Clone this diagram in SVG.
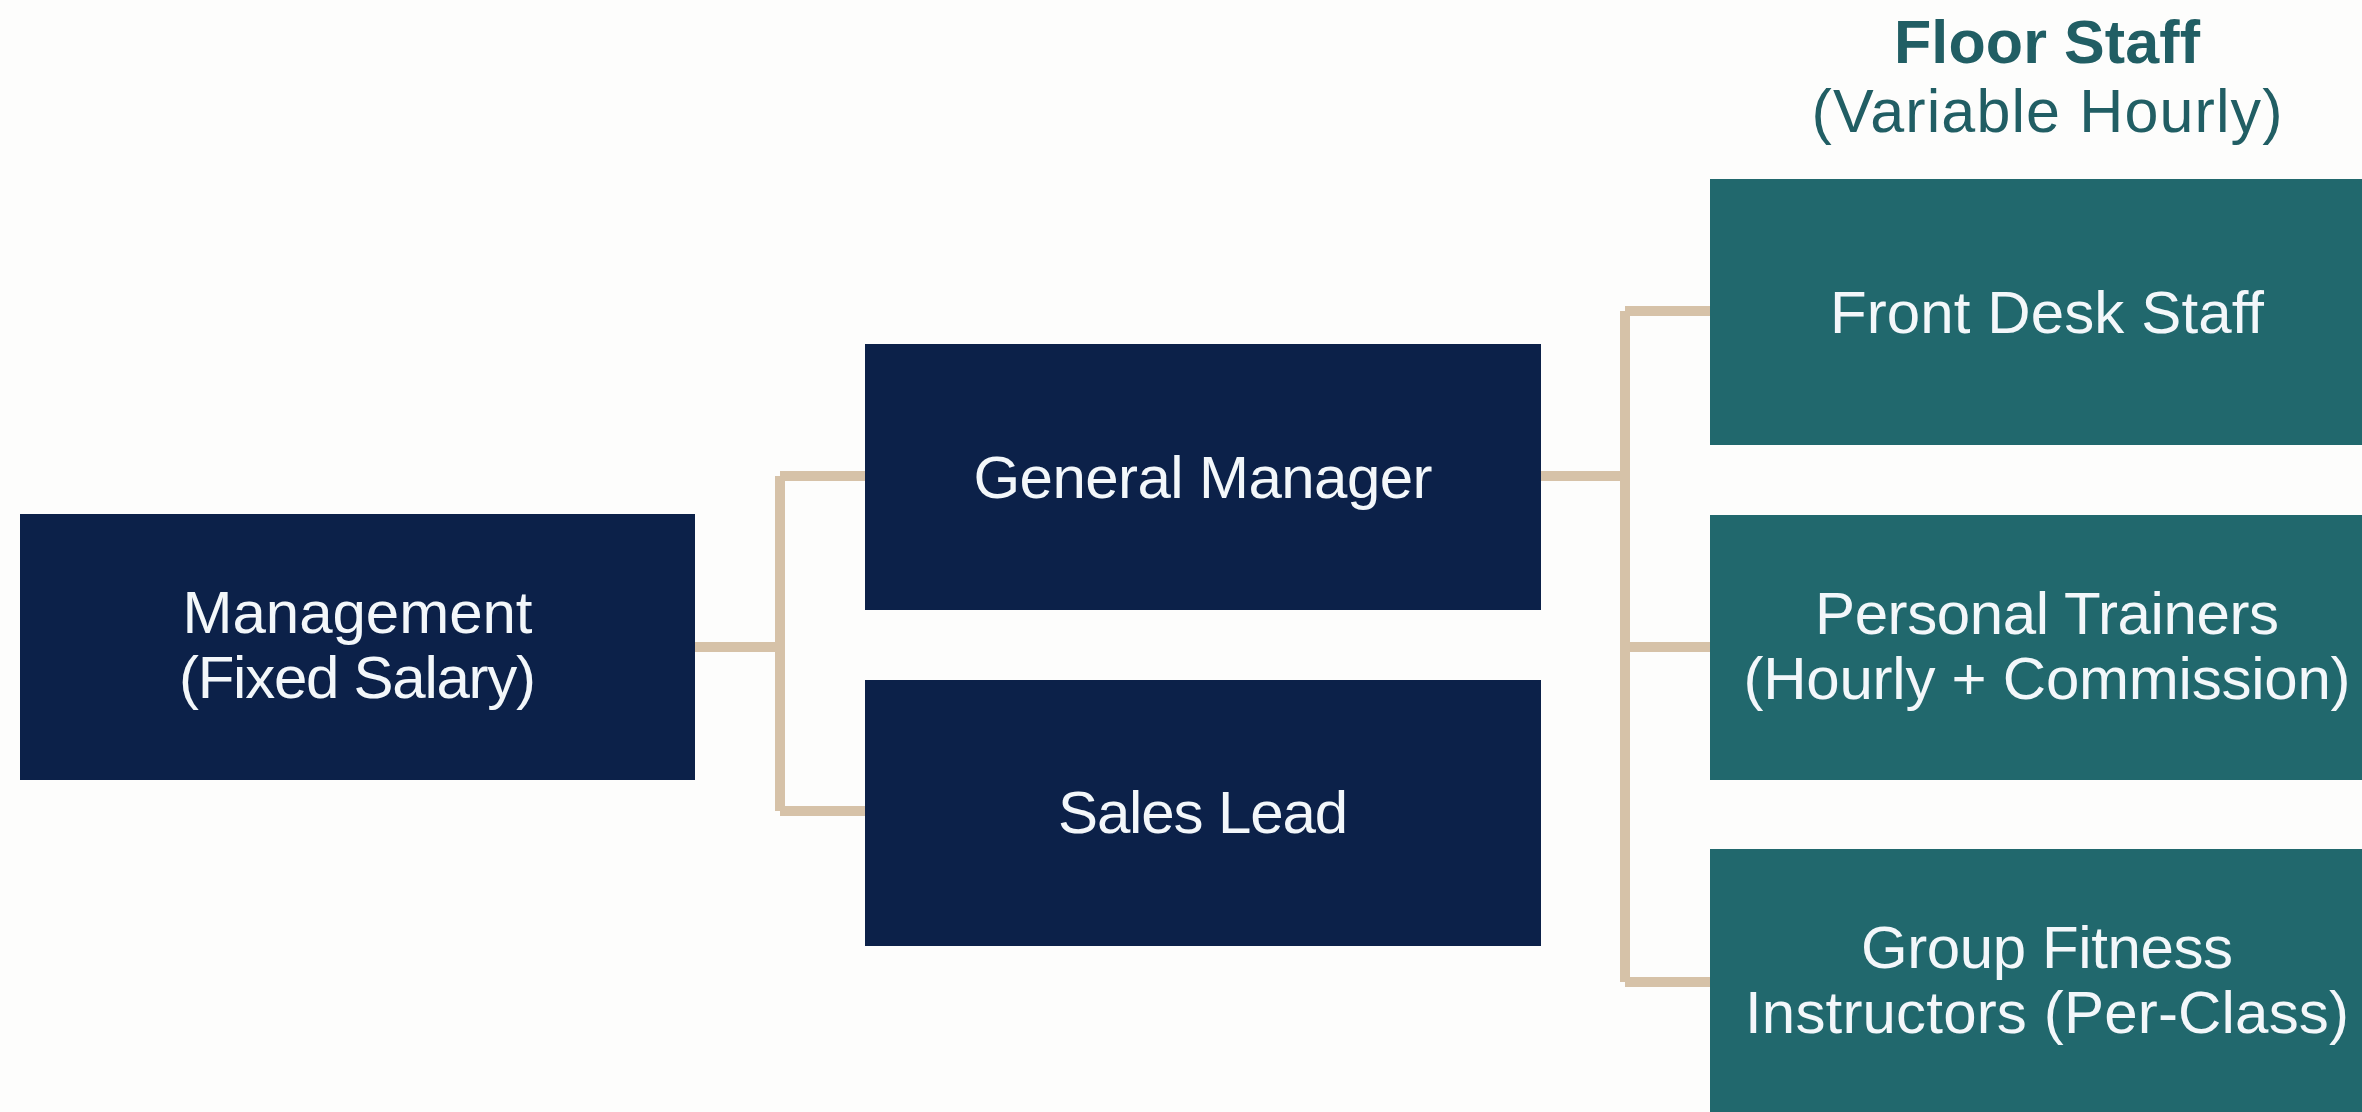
<svg xmlns="http://www.w3.org/2000/svg" width="2362" height="1112" viewBox="0 0 2362 1112">
  <style>
    .navy { fill: #0c2149; }
    .teal { fill: #21686d; }
    .lbl { font-family: "Liberation Sans", Arial, sans-serif; font-size: 60px; fill: #f3f7fa; text-anchor: middle; }
    .head { font-family: "Liberation Sans", Arial, sans-serif; fill: #215e64; text-anchor: middle; }
    .link { fill: none; stroke: #d6c2a8; stroke-width: 10; stroke-linejoin: miter; stroke-linecap: butt; }
  </style>
  <rect width="2362" height="1112" fill="#fdfdfc"/>

  <!-- column heading for hourly staff -->
  <g id="floor-staff-heading">
    <text class="head" x="2047" y="63" font-size="61" font-weight="bold" textLength="306">Floor Staff</text>
    <text class="head" x="2047" y="132" font-size="61" textLength="471">(Variable Hourly)</text>
  </g>

  <!-- connectors -->
  <g id="connectors">
    <path class="link" d="M695 647 H780 M780 476 V811 M780 476 H865 M780 811 H865"/>
    <path class="link" d="M1541 476 H1625 M1625 311 V982 M1625 311 H1710 M1625 647 H1710 M1625 982 H1710"/>
  </g>

  <g id="management">
    <rect class="navy" x="20" y="514" width="675" height="266"/>
    <text class="lbl" x="357.5" y="633" textLength="350">Management</text>
    <text class="lbl" x="357.5" y="698" textLength="357">(Fixed Salary)</text>
  </g>

  <g id="general-manager">
    <rect class="navy" x="865" y="344" width="676" height="266"/>
    <text class="lbl" x="1203" y="498" textLength="459">General Manager</text>
  </g>

  <g id="sales-lead">
    <rect class="navy" x="865" y="680" width="676" height="266"/>
    <text class="lbl" x="1203" y="833" textLength="290">Sales Lead</text>
  </g>

  <g id="front-desk">
    <rect class="teal" x="1710" y="179" width="680" height="266"/>
    <text class="lbl" x="2047" y="333" textLength="434">Front Desk Staff</text>
  </g>

  <g id="personal-trainers">
    <rect class="teal" x="1710" y="515" width="680" height="265"/>
    <text class="lbl" x="2047" y="634" textLength="464">Personal Trainers</text>
    <text class="lbl" x="2047" y="699" textLength="607">(Hourly + Commission)</text>
  </g>

  <g id="group-fitness">
    <rect class="teal" x="1710" y="849" width="680" height="280"/>
    <text class="lbl" x="2047" y="968" textLength="372">Group Fitness</text>
    <text class="lbl" x="2047" y="1033" textLength="604">Instructors (Per-Class)</text>
  </g>
</svg>
